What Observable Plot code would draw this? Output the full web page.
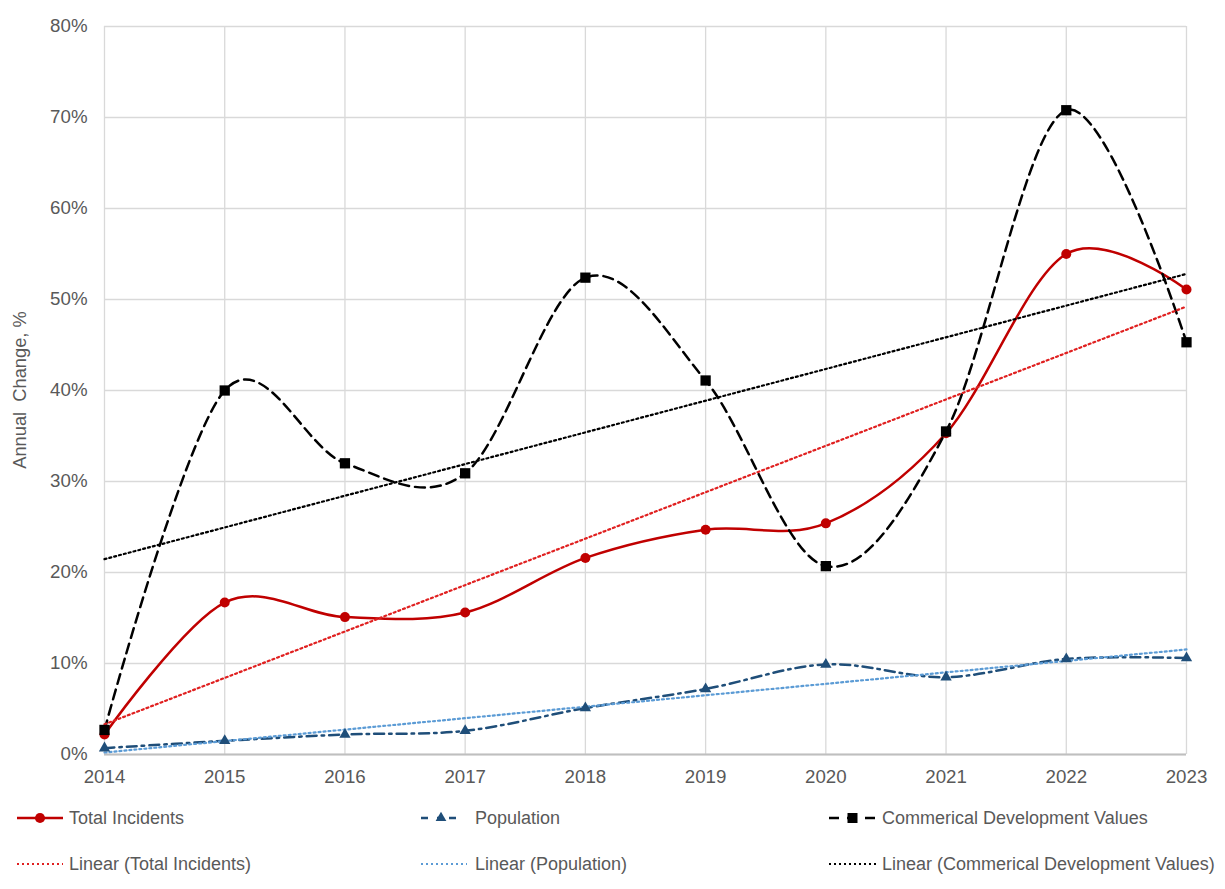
<!DOCTYPE html>
<html>
<head>
<meta charset="utf-8">
<script src="https://cdn.jsdelivr.net/npm/d3@7"></script>
<script src="https://cdn.jsdelivr.net/npm/@observablehq/plot@0.6"></script>
<style>
  html, body { margin: 0; padding: 0; background: #fff; }
  #chart { position: relative; width: 1225px; height: 889px; font-family: "Liberation Sans", Arial, sans-serif; color: #595959; }
  #chart svg.plot { position: absolute; left: 0; top: 0; }
  .ytitle { position: absolute; left: 20px; top: 390px; transform: translate(-50%, -50%) rotate(-90deg); white-space: pre; font-size: 18.3px; }
  .leg { position: absolute; display: flex; align-items: center; height: 24px; font-size: 18px; white-space: pre; }
  .leg svg { display: block; }
</style>
</head>
<body>
<div id="chart"></div>
<script>
// Annual change (%) by year
const years = [2014, 2015, 2016, 2017, 2018, 2019, 2020, 2021, 2022, 2023];
const totalIncidents = [2.2, 16.7, 15.1, 15.6, 21.6, 24.7, 25.4, 35.3, 55.0, 51.1];
const population = [0.7, 1.5, 2.2, 2.6, 5.1, 7.2, 9.9, 8.5, 10.5, 10.6];
const commercialValues = [2.7, 40.0, 32.0, 30.9, 52.4, 41.1, 20.7, 35.5, 70.8, 45.3];
const yTicks = [0, 10, 20, 30, 40, 50, 60, 70, 80];
const seriesNames = ["Total Incidents", "Population", "Commerical Development Values"];

const toRows = (vals) => years.map((year, i) => ({year, value: vals[i]}));
const incRows = toRows(totalIncidents);
const popRows = toRows(population);
const comRows = toRows(commercialValues);

const RED = "#c00000", RED_TREND = "#e02020";
const BLUE = "#1f4e79", BLUE_TREND = "#5b9bd5";
const BLACK = "#000000";
const FONT = '"Liberation Sans", Arial, sans-serif';

const plot = Plot.plot({
  width: 1225,
  height: 795,
  marginLeft: 104,
  marginRight: 39,
  marginTop: 26,
  marginBottom: 41,
  style: {fontFamily: FONT, background: "transparent", overflow: "visible"},
  x: {domain: [2014, 2023]},
  y: {domain: [0, 80]},
  marks: [
    Plot.gridX(years, {stroke: "#d9d9d9", strokeOpacity: 1, strokeWidth: 1.3}),
    Plot.gridY(yTicks, {stroke: "#d9d9d9", strokeOpacity: 1, strokeWidth: 1.3}),
    Plot.ruleY([0], {stroke: "#bfbfbf", strokeWidth: 2}),
    Plot.axisX(years, {tickSize: 0, tickPadding: 15, tickFormat: (d) => String(d), fontSize: 18.7, color: "#595959", label: null}),
    Plot.axisY(yTicks, {tickSize: 0, tickPadding: 17, tickFormat: (d) => d + "%", fontSize: 18.7, color: "#595959", label: null}),

    // smoothed series lines
    Plot.line(incRows, {x: "year", y: "value", curve: "cardinal", stroke: RED, strokeWidth: 2.5}),
    Plot.line(popRows, {x: "year", y: "value", curve: "cardinal", stroke: BLUE, strokeWidth: 2.5, strokeDasharray: "10,5,2.5,5"}),
    Plot.line(comRows, {x: "year", y: "value", curve: "cardinal", stroke: BLACK, strokeWidth: 2.5, strokeDasharray: "10,6"}),

    // linear trend lines
    Plot.linearRegressionY(incRows, {x: "year", y: "value", ci: 0, stroke: RED_TREND, strokeWidth: 2.2, strokeDasharray: "2,3"}),
    Plot.linearRegressionY(popRows, {x: "year", y: "value", ci: 0, stroke: BLUE_TREND, strokeWidth: 2.2, strokeDasharray: "2,3"}),
    Plot.linearRegressionY(comRows, {x: "year", y: "value", ci: 0, stroke: BLACK, strokeWidth: 2.2, strokeDasharray: "2,3"}),

    // markers
    Plot.dot(incRows, {x: "year", y: "value", symbol: "circle", r: 5, fill: RED, stroke: "none"}),
    Plot.dot(popRows, {x: "year", y: "value", symbol: "triangle", r: 4.2, fill: BLUE, stroke: "none"}),
    Plot.dot(comRows, {x: "year", y: "value", symbol: "square", r: 5.8, fill: BLACK, stroke: "none"})
  ]
});
plot.classList.add("plot");

const chart = document.getElementById("chart");
chart.appendChild(plot);

const ytitle = document.createElement("div");
ytitle.className = "ytitle";
ytitle.textContent = "Annual  Change, %";
chart.appendChild(ytitle);

// legend: two rows, three columns
function swatch(kind, w) {
  const ns = "http://www.w3.org/2000/svg";
  const s = document.createElementNS(ns, "svg");
  s.setAttribute("width", w); s.setAttribute("height", 20);
  const line = document.createElementNS(ns, "line");
  line.setAttribute("x1", 0); line.setAttribute("x2", w);
  line.setAttribute("y1", 10); line.setAttribute("y2", 10);
  line.setAttribute("stroke-width", kind.width);
  line.setAttribute("stroke", kind.color);
  if (kind.dash) line.setAttribute("stroke-dasharray", kind.dash);
  s.appendChild(line);
  if (kind.marker) {
    const m = document.createElementNS(ns, "path");
    const sym = {circle: d3.symbolCircle, triangle: d3.symbolTriangle, square: d3.symbolSquare}[kind.marker];
    m.setAttribute("d", d3.symbol(sym, kind.size)());
    m.setAttribute("transform", `translate(${w / 2},10)`);
    m.setAttribute("fill", kind.color);
    s.appendChild(m);
  }
  return s;
}
const legendItems = [
  {label: seriesNames[0], left: 17, top: 806, w: 46, gap: 6, kind: {color: RED, width: 2.5, marker: "circle", size: 80}},
  {label: seriesNames[1], left: 421, top: 806, w: 40, gap: 14, kind: {color: BLUE, width: 2.5, dash: "7,9,3,9", marker: "triangle", size: 50}},
  {label: seriesNames[2], left: 829, top: 806, w: 47, gap: 6, kind: {color: BLACK, width: 2.5, dash: "10,8", marker: "square", size: 100}},
  {label: "Linear (" + seriesNames[0] + ")", left: 17, top: 852, w: 46, gap: 6, kind: {color: RED_TREND, width: 2, dash: "2,3"}},
  {label: "Linear (" + seriesNames[1] + ")", left: 421, top: 852, w: 46, gap: 8, kind: {color: BLUE_TREND, width: 2, dash: "2,3"}},
  {label: "Linear (" + seriesNames[2] + ")", left: 829, top: 852, w: 47, gap: 6, kind: {color: BLACK, width: 2, dash: "2,3"}}
];
for (const it of legendItems) {
  const d = document.createElement("div");
  d.className = "leg";
  d.style.left = it.left + "px";
  d.style.top = it.top + "px";
  const sw = swatch(it.kind, it.w);
  sw.style.marginRight = it.gap + "px";
  d.appendChild(sw);
  const t = document.createElement("span");
  t.textContent = it.label;
  d.appendChild(t);
  chart.appendChild(d);
}
</script>
</body>
</html>
